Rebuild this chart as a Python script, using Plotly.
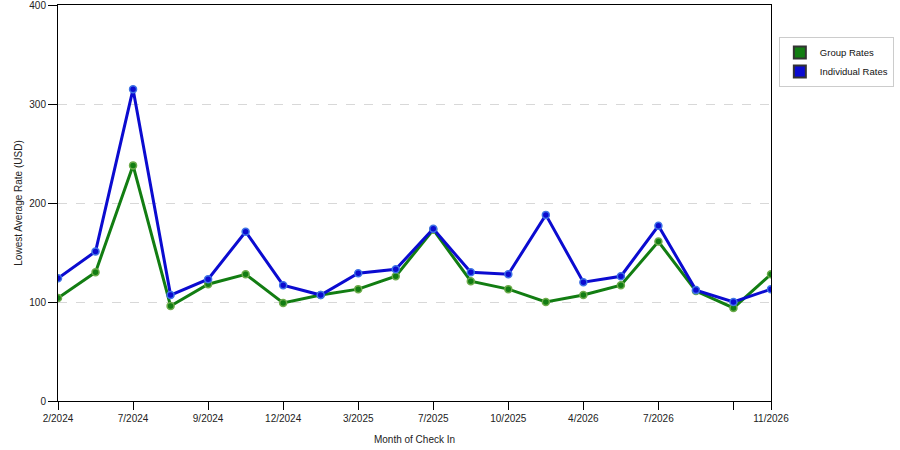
import plotly.graph_objects as go

months = ["2/2024", "", "7/2024", "", "9/2024", "", "12/2024", "", "3/2025", "",
          "7/2025", "", "10/2025", "", "4/2026", "", "7/2026", "", "", "11/2026"]
group_rates = [104, 130, 238, 96, 118, 128, 99, 107, 113, 126,
               173, 121, 113, 100, 107, 117, 161, 111, 94, 128]
individual_rates = [124, 151, 315, 107, 123, 171, 117, 107, 129, 133,
                    174, 130, 128, 188, 120, 126, 177, 112, 100, 113]
tick_idx = [0, 2, 4, 6, 8, 10, 12, 14, 16, 18, 19]
y_ticks = [0, 100, 200, 300, 400]
series_names = ["Group Rates", "Individual Rates"]
colors = ["#127d12", "#0b0bd0"]
edge_colors = ["#6cab4a", "#3f74e6"]

x = list(range(len(months)))
fig = go.Figure()
for name, vals, c, ec in zip(series_names, [group_rates, individual_rates], colors, edge_colors):
    fig.add_trace(go.Scatter(
        x=x, y=vals, mode="lines+markers", name=name, showlegend=False,
        line=dict(color=c, width=3),
        marker=dict(size=7, color=c, line=dict(color=ec, width=1.5)),
        hovertemplate="%{y}<extra>" + name + "</extra>"))
for name, c in zip(series_names, colors):
    fig.add_trace(go.Scatter(
        x=[None], y=[None], mode="markers", name=name,
        marker=dict(symbol="square", size=13, color=c, line=dict(color="#333333", width=0.5))))

font_family = "Liberation Sans, Arial, sans-serif"
fig.update_layout(
    width=900, height=450,
    margin=dict(l=58, r=129, t=5, b=49, autoexpand=False),
    paper_bgcolor="white", plot_bgcolor="white",
    font=dict(family=font_family, size=10, color="#222222"),
    showlegend=True,
    legend=dict(x=1.011, y=0.919, xanchor="left", yanchor="top",
                bordercolor="#cccccc", borderwidth=1, bgcolor="white",
                font=dict(size=9.5, color="#111111"), itemsizing="constant",
                itemwidth=30, tracegroupgap=2),
    xaxis=dict(
        range=[0, len(months) - 1], tickmode="array",
        tickvals=[x[i] for i in tick_idx], ticktext=[months[i] for i in tick_idx],
        showgrid=False, zeroline=False, showline=True, linecolor="#000000",
        linewidth=1, mirror=True, ticks="outside", ticklen=8, tickcolor="#000000",
        ticklabeloverflow="allow", automargin=False,
        title=dict(text="Month of Check In", font=dict(size=10), standoff=12),
        tickfont=dict(size=10)),
    yaxis=dict(
        range=[0, 400], tickmode="array", tickvals=y_ticks,
        ticktext=[str(v) for v in y_ticks],
        showgrid=True, gridcolor="#d8d8d8", griddash="dash", gridwidth=1,
        zeroline=False, showline=True, linecolor="#000000", linewidth=1, mirror=True,
        ticks="outside", ticklen=9, tickcolor="#000000",
        ticklabeloverflow="allow", automargin=False,
        title=dict(text="Lowest Average Rate (USD)", font=dict(size=10), standoff=4),
        tickfont=dict(size=10)),
)

fig.write_html("out.html", config={"displayModeBar": False},
               post_script="document.body.style.margin='0';")
